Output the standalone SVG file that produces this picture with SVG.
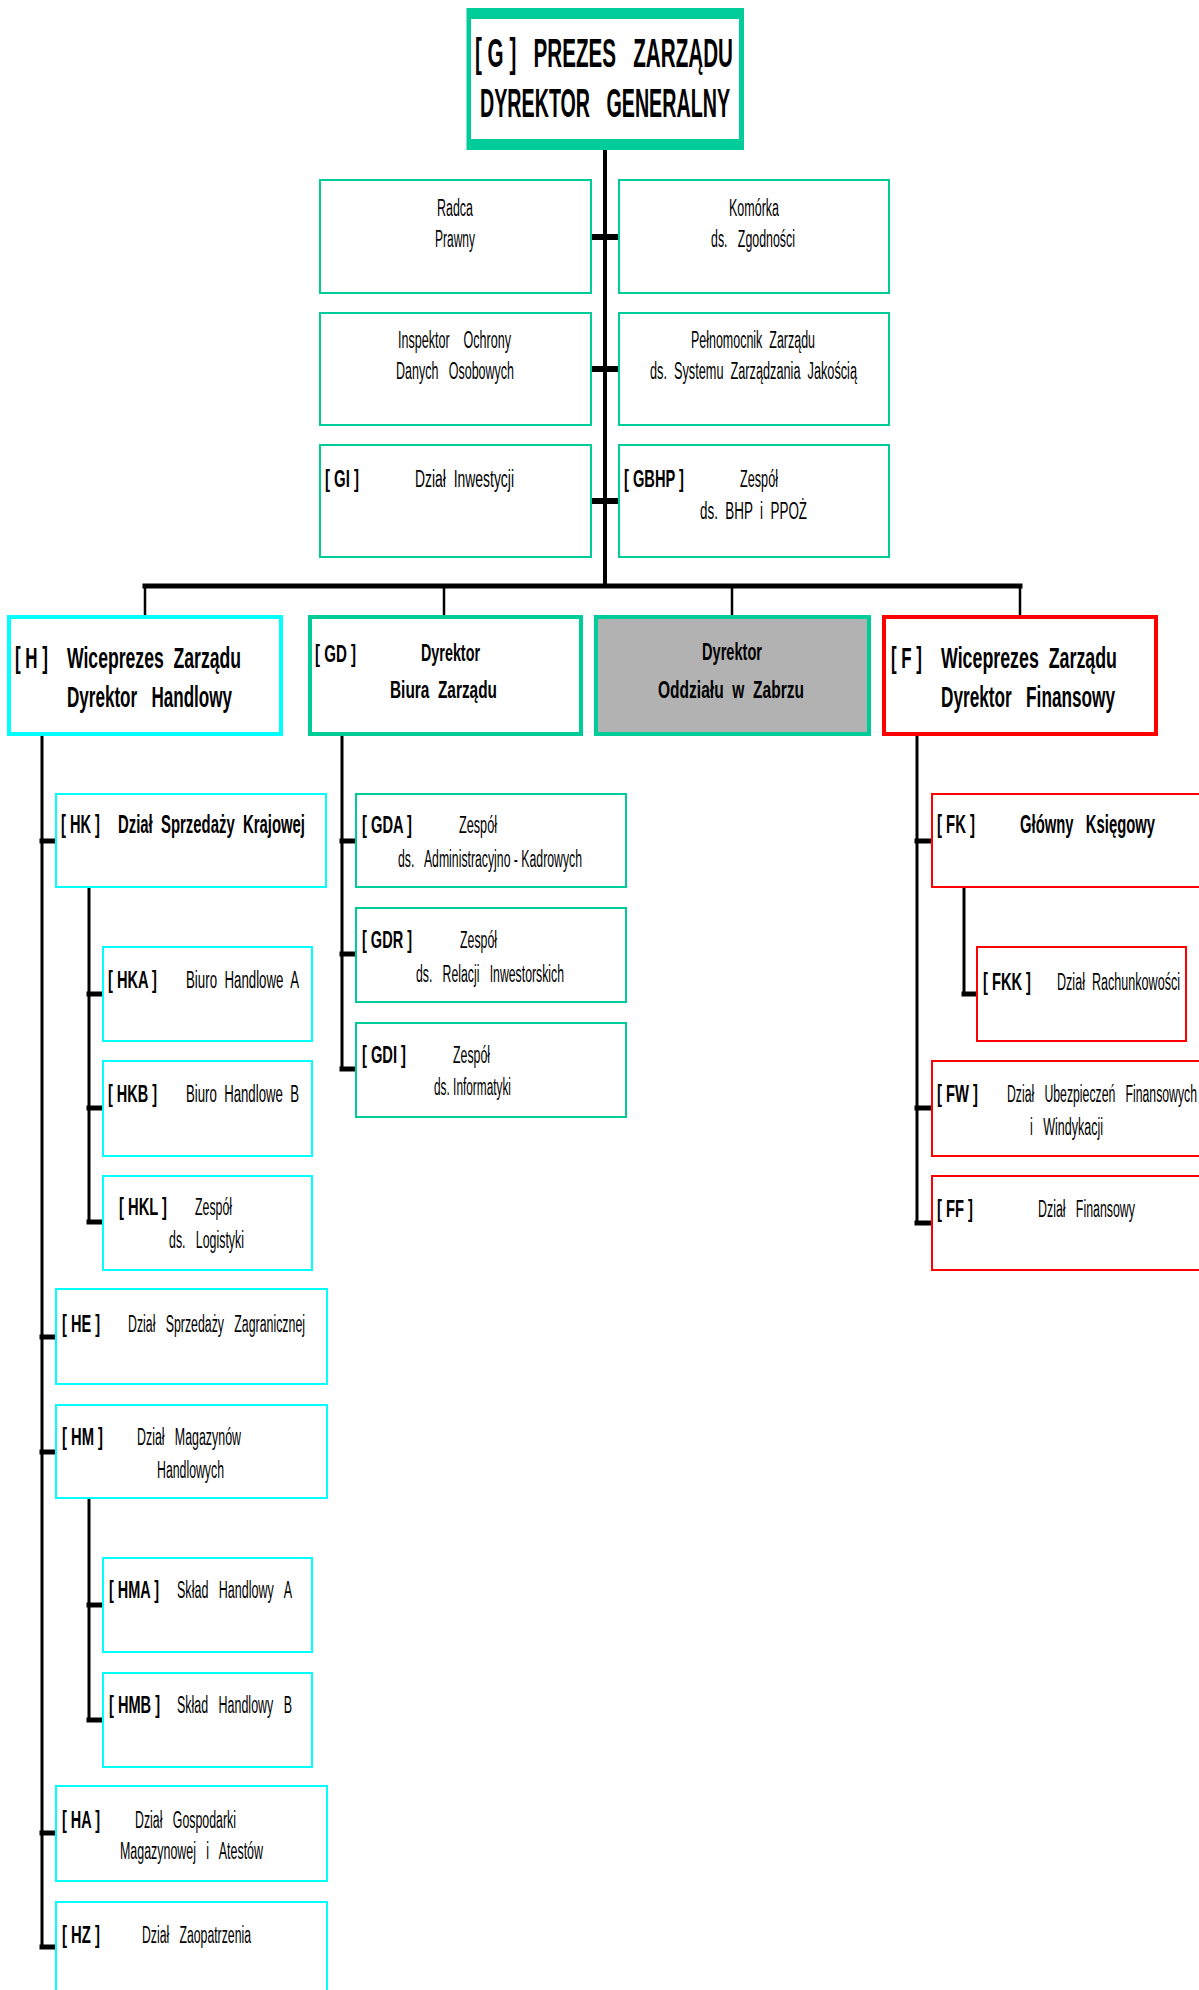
<svg xmlns="http://www.w3.org/2000/svg" width="1199" height="1990" viewBox="0 0 1199 1990">
<style>
text{font-family:"Liberation Sans Narrow","Liberation Sans",Arial,sans-serif;fill:#000;white-space:pre}
.r{font-size:23px;font-weight:normal}
.b{font-size:24px;font-weight:bold}
.b2{font-size:24px;font-weight:bold}
.b24{font-size:26px;font-weight:bold}
.t1{font-size:29px;font-weight:bold}
.tg{font-size:40px;font-weight:bold}
.g{fill:#fff;stroke:#00CC99;stroke-width:2}
.c{fill:#fff;stroke:#00FFFF;stroke-width:2}
.rd{fill:#fff;stroke:#FF0000;stroke-width:2}
.g4{fill:#fff;stroke:#00CC99;stroke-width:4}
.c4{fill:#fff;stroke:#00FFFF;stroke-width:4}
.rd4{fill:#fff;stroke:#FF0000;stroke-width:4}
.gr4{fill:#B2B2B2;stroke:#00CC99;stroke-width:4}
#connectors line{stroke:#000;stroke-linecap:square}
.v{stroke-width:3}
.tk{stroke-width:5}
.d{stroke-width:2.5}
</style>
<g id="connectors">
<line x1="605" y1="150" x2="605" y2="586" style="stroke-width:4"/>
<line x1="591" y1="237" x2="619" y2="237" style="stroke-width:6;stroke-linecap:butt"/>
<line x1="591" y1="369" x2="619" y2="369" style="stroke-width:6;stroke-linecap:butt"/>
<line x1="591" y1="501" x2="619" y2="501" style="stroke-width:6;stroke-linecap:butt"/>
<line x1="145" y1="586" x2="1020" y2="586" style="stroke-width:5"/>
<line class="d" x1="145" y1="586" x2="145" y2="616"/>
<line class="d" x1="444" y1="586" x2="444" y2="616"/>
<line class="d" x1="732" y1="586" x2="732" y2="616"/>
<line class="d" x1="1020" y1="586" x2="1020" y2="616"/>
<line class="v" x1="42" y1="736" x2="42" y2="1947"/>
<line class="tk" x1="42" y1="841" x2="55" y2="841"/>
<line class="tk" x1="42" y1="1337" x2="55" y2="1337"/>
<line class="tk" x1="42" y1="1452" x2="55" y2="1452"/>
<line class="tk" x1="42" y1="1833" x2="55" y2="1833"/>
<line class="tk" x1="42" y1="1947" x2="55" y2="1947"/>
<line class="v" x1="89" y1="888" x2="89" y2="1222"/>
<line class="tk" x1="89" y1="994" x2="102" y2="994"/>
<line class="tk" x1="89" y1="1108" x2="102" y2="1108"/>
<line class="tk" x1="89" y1="1222" x2="102" y2="1222"/>
<line class="v" x1="89" y1="1499" x2="89" y2="1720"/>
<line class="tk" x1="89" y1="1605" x2="102" y2="1605"/>
<line class="tk" x1="89" y1="1720" x2="102" y2="1720"/>
<line class="v" x1="342" y1="736" x2="342" y2="1069"/>
<line class="tk" x1="342" y1="841" x2="355" y2="841"/>
<line class="tk" x1="342" y1="954" x2="355" y2="954"/>
<line class="tk" x1="342" y1="1069" x2="355" y2="1069"/>
<line class="v" x1="917" y1="736" x2="917" y2="1223"/>
<line class="tk" x1="917" y1="841" x2="931" y2="841"/>
<line class="tk" x1="917" y1="1108" x2="931" y2="1108"/>
<line class="tk" x1="917" y1="1223" x2="931" y2="1223"/>
<line class="v" x1="964" y1="888" x2="964" y2="994"/>
<line class="tk" x1="964" y1="994" x2="976" y2="994"/>
</g>
<g id="G">
<rect x="466.5" y="8" width="277.5" height="142" fill="#00CC99"/>
<rect x="471" y="19" width="268" height="120" fill="#fff"/>
<text class="tg" x="475" y="67" textLength="258" lengthAdjust="spacingAndGlyphs">[ G ]   PREZES   ZARZĄDU</text>
<text class="tg" x="480" y="117" textLength="250" lengthAdjust="spacingAndGlyphs">DYREKTOR   GENERALNY</text>
</g>
<g id="radca">
<rect class="g" x="320" y="180" width="271" height="113"/>
<text class="r" x="437" y="216" textLength="36" lengthAdjust="spacingAndGlyphs">Radca</text>
<text class="r" x="435" y="247" textLength="40" lengthAdjust="spacingAndGlyphs">Prawny</text>
</g>
<g id="zgodnosc">
<rect class="g" x="619" y="180" width="270" height="113"/>
<text class="r" x="729" y="216" textLength="50" lengthAdjust="spacingAndGlyphs">Komórka</text>
<text class="r" x="711" y="247" textLength="84" lengthAdjust="spacingAndGlyphs">ds.   Zgodności</text>
</g>
<g id="iodo">
<rect class="g" x="320" y="313" width="271" height="112"/>
<text class="r" x="398" y="348" textLength="113" lengthAdjust="spacingAndGlyphs">Inspektor    Ochrony</text>
<text class="r" x="396" y="379" textLength="118" lengthAdjust="spacingAndGlyphs">Danych   Osobowych</text>
</g>
<g id="szj">
<rect class="g" x="619" y="313" width="270" height="112"/>
<text class="r" x="691" y="348" textLength="124" lengthAdjust="spacingAndGlyphs">Pełnomocnik  Zarządu</text>
<text class="r" x="650" y="379" textLength="207" lengthAdjust="spacingAndGlyphs">ds.  Systemu  Zarządzania  Jakością</text>
</g>
<g id="GI">
<rect class="g" x="320" y="445" width="271" height="112"/>
<text class="b" x="325" y="487" textLength="34" lengthAdjust="spacingAndGlyphs">[ GI ]</text>
<text class="r" x="415" y="487" textLength="99" lengthAdjust="spacingAndGlyphs">Dział  Inwestycji</text>
</g>
<g id="GBHP">
<rect class="g" x="619" y="445" width="270" height="112"/>
<text class="b" x="624" y="487" textLength="60" lengthAdjust="spacingAndGlyphs">[ GBHP ]</text>
<text class="r" x="740" y="487" textLength="38" lengthAdjust="spacingAndGlyphs">Zespół</text>
<text class="r" x="700" y="519" textLength="107" lengthAdjust="spacingAndGlyphs">ds.  BHP  i  PPOŻ</text>
</g>
<g id="H">
<rect class="c4" x="9" y="617" width="272" height="117"/>
<text class="t1" x="15" y="668" textLength="33" lengthAdjust="spacingAndGlyphs">[ H ]</text>
<text class="t1" x="67" y="668" textLength="174" lengthAdjust="spacingAndGlyphs">Wiceprezes  Zarządu</text>
<text class="t1" x="67" y="707" textLength="165" lengthAdjust="spacingAndGlyphs">Dyrektor   Handlowy</text>
</g>
<g id="GD">
<rect class="g4" x="310" y="617" width="271" height="117"/>
<text class="b2" x="315" y="662" textLength="41" lengthAdjust="spacingAndGlyphs">[ GD ]</text>
<text class="b2" x="421" y="661" textLength="59" lengthAdjust="spacingAndGlyphs">Dyrektor</text>
<text class="b2" x="390" y="698" textLength="107" lengthAdjust="spacingAndGlyphs">Biura  Zarządu</text>
</g>
<g id="zabrze">
<rect class="gr4" x="596" y="617" width="273" height="117"/>
<text class="b2" x="702" y="660" textLength="60" lengthAdjust="spacingAndGlyphs">Dyrektor</text>
<text class="b2" x="658" y="698" textLength="146" lengthAdjust="spacingAndGlyphs">Oddziału  w  Zabrzu</text>
</g>
<g id="F">
<rect class="rd4" x="884" y="617" width="272" height="117"/>
<text class="t1" x="891" y="668" textLength="31" lengthAdjust="spacingAndGlyphs">[ F ]</text>
<text class="t1" x="941" y="668" textLength="176" lengthAdjust="spacingAndGlyphs">Wiceprezes  Zarządu</text>
<text class="t1" x="941" y="707" textLength="174" lengthAdjust="spacingAndGlyphs">Dyrektor   Finansowy</text>
</g>
<g id="HK">
<rect class="c" x="56" y="794" width="270" height="93"/>
<text class="b24" x="61" y="833" textLength="39" lengthAdjust="spacingAndGlyphs">[ HK ]</text>
<text class="b24" x="118" y="833" textLength="187" lengthAdjust="spacingAndGlyphs">Dział  Sprzedaży  Krajowej</text>
</g>
<g id="HKA">
<rect class="c" x="103" y="947" width="209" height="94"/>
<text class="b" x="108" y="988" textLength="49" lengthAdjust="spacingAndGlyphs">[ HKA ]</text>
<text class="r" x="186" y="988" textLength="113" lengthAdjust="spacingAndGlyphs">Biuro  Handlowe  A</text>
</g>
<g id="HKB">
<rect class="c" x="103" y="1061" width="209" height="95"/>
<text class="b" x="108" y="1102" textLength="49" lengthAdjust="spacingAndGlyphs">[ HKB ]</text>
<text class="r" x="186" y="1102" textLength="113" lengthAdjust="spacingAndGlyphs">Biuro  Handlowe  B</text>
</g>
<g id="HKL">
<rect class="c" x="103" y="1176" width="209" height="94"/>
<text class="b" x="119" y="1215" textLength="48" lengthAdjust="spacingAndGlyphs">[ HKL ]</text>
<text class="r" x="195" y="1215" textLength="37" lengthAdjust="spacingAndGlyphs">Zespół</text>
<text class="r" x="169" y="1248" textLength="75" lengthAdjust="spacingAndGlyphs">ds.   Logistyki</text>
</g>
<g id="HE">
<rect class="c" x="56" y="1289" width="271" height="95"/>
<text class="b" x="62" y="1332" textLength="38" lengthAdjust="spacingAndGlyphs">[ HE ]</text>
<text class="r" x="128" y="1332" textLength="177" lengthAdjust="spacingAndGlyphs">Dział   Sprzedaży   Zagranicznej</text>
</g>
<g id="HM">
<rect class="c" x="56" y="1405" width="271" height="93"/>
<text class="b" x="62" y="1445" textLength="41" lengthAdjust="spacingAndGlyphs">[ HM ]</text>
<text class="r" x="137" y="1445" textLength="104" lengthAdjust="spacingAndGlyphs">Dział   Magazynów</text>
<text class="r" x="157" y="1478" textLength="67" lengthAdjust="spacingAndGlyphs">Handlowych</text>
</g>
<g id="HMA">
<rect class="c" x="103" y="1558" width="209" height="94"/>
<text class="b" x="109" y="1598" textLength="50" lengthAdjust="spacingAndGlyphs">[ HMA ]</text>
<text class="r" x="177" y="1598" textLength="115" lengthAdjust="spacingAndGlyphs">Skład   Handlowy   A</text>
</g>
<g id="HMB">
<rect class="c" x="103" y="1673" width="209" height="94"/>
<text class="b" x="109" y="1713" textLength="51" lengthAdjust="spacingAndGlyphs">[ HMB ]</text>
<text class="r" x="177" y="1713" textLength="115" lengthAdjust="spacingAndGlyphs">Skład   Handlowy   B</text>
</g>
<g id="HA">
<rect class="c" x="56" y="1786" width="271" height="95"/>
<text class="b" x="62" y="1828" textLength="38" lengthAdjust="spacingAndGlyphs">[ HA ]</text>
<text class="r" x="135" y="1828" textLength="101" lengthAdjust="spacingAndGlyphs">Dział   Gospodarki</text>
<text class="r" x="120" y="1859" textLength="143" lengthAdjust="spacingAndGlyphs">Magazynowej   i   Atestów</text>
</g>
<g id="HZ">
<rect class="c" x="56" y="1902" width="271" height="95"/>
<text class="b" x="62" y="1943" textLength="38" lengthAdjust="spacingAndGlyphs">[ HZ ]</text>
<text class="r" x="142" y="1943" textLength="109" lengthAdjust="spacingAndGlyphs">Dział   Zaopatrzenia</text>
</g>
<g id="GDA">
<rect class="g" x="356" y="794" width="270" height="93"/>
<text class="b" x="362" y="833" textLength="50" lengthAdjust="spacingAndGlyphs">[ GDA ]</text>
<text class="r" x="459" y="833" textLength="38" lengthAdjust="spacingAndGlyphs">Zespół</text>
<text class="r" x="398" y="867" textLength="184" lengthAdjust="spacingAndGlyphs">ds.   Administracyjno - Kadrowych</text>
</g>
<g id="GDR">
<rect class="g" x="356" y="908" width="270" height="94"/>
<text class="b" x="362" y="948" textLength="50" lengthAdjust="spacingAndGlyphs">[ GDR ]</text>
<text class="r" x="460" y="948" textLength="37" lengthAdjust="spacingAndGlyphs">Zespół</text>
<text class="r" x="416" y="982" textLength="148" lengthAdjust="spacingAndGlyphs">ds.   Relacji   Inwestorskich</text>
</g>
<g id="GDI">
<rect class="g" x="356" y="1023" width="270" height="94"/>
<text class="b" x="362" y="1063" textLength="44" lengthAdjust="spacingAndGlyphs">[ GDI ]</text>
<text class="r" x="453" y="1063" textLength="37" lengthAdjust="spacingAndGlyphs">Zespół</text>
<text class="r" x="434" y="1095" textLength="77" lengthAdjust="spacingAndGlyphs">ds. Informatyki</text>
</g>
<g id="FK">
<rect class="rd" x="932" y="794" width="272" height="93"/>
<text class="b24" x="937" y="833" textLength="38" lengthAdjust="spacingAndGlyphs">[ FK ]</text>
<text class="b24" x="1020" y="833" textLength="135" lengthAdjust="spacingAndGlyphs">Główny   Księgowy</text>
</g>
<g id="FKK">
<rect class="rd" x="977" y="947" width="209" height="94"/>
<text class="b" x="983" y="990" textLength="48" lengthAdjust="spacingAndGlyphs">[ FKK ]</text>
<text class="r" x="1057" y="990" textLength="123" lengthAdjust="spacingAndGlyphs">Dział  Rachunkowości</text>
</g>
<g id="FW">
<rect class="rd" x="932" y="1061" width="272" height="95"/>
<text class="b" x="937" y="1102" textLength="41" lengthAdjust="spacingAndGlyphs">[ FW ]</text>
<text class="r" x="1007" y="1102" textLength="190" lengthAdjust="spacingAndGlyphs">Dział   Ubezpieczeń   Finansowych</text>
<text class="r" x="1030" y="1135" textLength="73" lengthAdjust="spacingAndGlyphs">i   Windykacji</text>
</g>
<g id="FF">
<rect class="rd" x="932" y="1176" width="272" height="94"/>
<text class="b" x="937" y="1217" textLength="36" lengthAdjust="spacingAndGlyphs">[ FF ]</text>
<text class="r" x="1038" y="1217" textLength="97" lengthAdjust="spacingAndGlyphs">Dział   Finansowy</text>
</g>
</svg>
